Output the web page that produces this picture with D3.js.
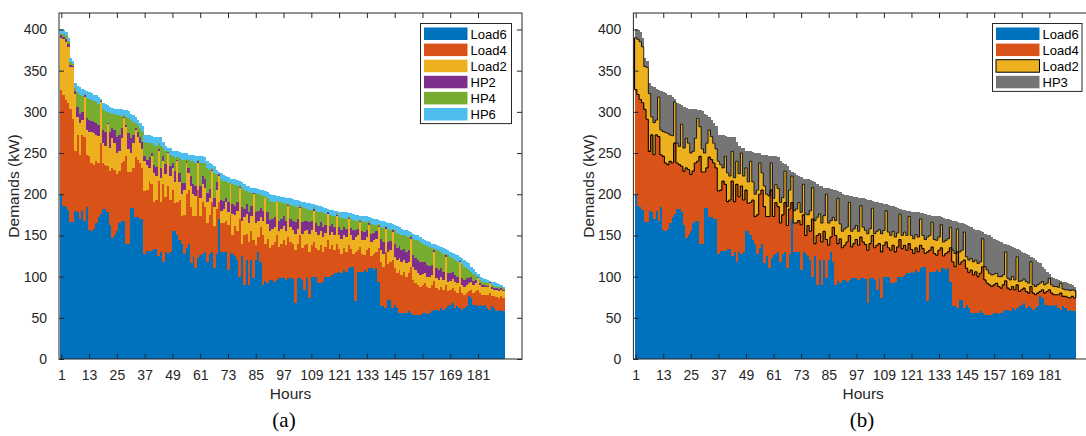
<!DOCTYPE html>
<html><head><meta charset="utf-8">
<script src="https://cdn.jsdelivr.net/npm/d3@7"></script>
<style>body{margin:0;background:#fff}svg{display:block}</style>
</head><body><svg id="c" width="1086" height="436"></svg>
<script>
const load6 = [200,186,185,181,166,166,180,178,170,180,168,184,157,155,158,165,172,176,182,182,178,163,147,150,155,165,168,168,140,140,183,183,172,172,170,170,128,131,131,131,133,133,125,130,118,130,128,130,155,155,150,145,140,127,135,140,117,125,110,122,126,128,130,118,128,130,110,128,170,130,130,130,108,130,128,125,120,100,125,90,120,90,120,98,120,130,118,90,95,92,96,96,94,96,98,98,98,96,98,98,97,68,98,98,96,84,98,74,100,100,100,92,92,94,100,100,100,102,104,104,106,104,108,106,110,112,112,70,106,106,106,108,106,110,110,108,110,94,64,64,62,72,72,62,66,62,56,56,56,56,58,56,53,53,54,53,56,56,55,56,58,60,60,58,62,60,62,64,66,68,62,64,62,60,62,64,76,74,66,66,64,66,64,66,62,60,64,62,58,60,58,58];
const load4 = [127,135,130,130,137,125,72,94,78,92,102,64,89,83,78,75,66,86,56,54,56,65,85,80,69,63,70,72,106,87,44,49,73,70,68,62,76,74,85,81,58,60,91,61,94,67,82,63,50,34,40,48,33,48,65,65,68,48,63,83,47,62,55,47,47,60,52,54,20,35,35,38,55,45,22,37,35,70,15,60,32,52,35,47,18,18,42,60,45,54,39,42,48,54,38,42,47,42,50,44,42,64,42,52,39,54,42,56,38,42,35,40,46,36,36,45,34,36,28,36,27,24,27,24,28,22,16,60,26,30,22,18,26,25,15,20,20,41,54,48,68,43,46,58,44,43,52,46,50,44,46,56,43,39,36,35,34,36,33,30,32,35,26,26,26,24,28,18,18,18,20,16,26,20,16,16,6,10,14,16,20,14,14,12,16,20,12,14,17,14,18,16];
const load2 = [63,67,70,68,52,63,70,22,39,18,48,30,30,37,38,32,33,50,24,22,51,28,36,32,26,24,30,52,36,28,23,30,33,28,24,23,36,31,16,34,35,29,36,29,28,28,40,29,27,26,50,22,27,30,38,21,25,27,25,33,22,22,22,25,21,38,23,23,32,15,17,22,15,37,26,13,25,38,28,22,24,23,19,55,27,20,12,18,55,18,20,20,18,40,19,18,17,17,38,18,17,20,18,33,17,17,17,22,18,38,19,18,17,18,17,31,16,16,18,33,17,18,16,18,32,16,17,18,18,30,17,18,16,28,17,16,16,25,14,16,28,15,14,34,14,15,14,16,14,16,14,34,16,16,14,14,13,12,12,14,12,35,12,12,12,12,34,12,11,11,12,12,30,10,10,10,10,10,10,10,14,10,10,10,9,12,9,8,9,9,8,9];
const hp2 = [3,3,3,3,2,2,3,12,11,10,2,14,14,14,14,14,13,1,16,18,2,20,12,16,20,20,12,2,2,19,18,10,2,6,8,9,6,6,13,4,10,11,3,12,6,12,1,12,6,13,2,11,14,9,2,6,12,13,12,2,15,10,12,12,10,2,11,10,2,13,10,6,12,1,12,11,10,1,16,10,12,13,12,1,13,12,11,12,1,14,14,12,12,1,13,12,11,13,1,10,12,14,12,2,14,12,11,14,11,2,11,12,11,12,10,2,12,10,10,2,10,11,9,10,1,9,11,9,8,2,10,10,9,2,10,9,9,2,14,14,2,12,11,2,16,15,15,14,14,14,14,2,14,14,16,16,15,14,14,13,12,2,12,12,10,10,2,10,9,9,8,8,1,8,8,8,6,6,5,4,1,2,2,2,2,1,2,2,2,2,2,1];
const hp4 = [2,3,4,4,3,2,4,18,23,19,2,25,26,26,25,26,26,1,25,25,13,23,18,19,26,24,15,2,10,19,22,16,7,8,10,12,18,20,17,12,24,25,7,26,10,15,1,14,8,16,3,18,28,28,3,10,18,27,28,2,28,16,19,30,24,2,30,9,1,25,24,20,24,2,24,25,20,2,24,23,16,25,16,1,23,20,16,18,2,18,23,21,19,1,22,20,16,20,2,17,18,20,15,2,18,16,14,15,14,2,15,17,13,18,13,1,13,10,13,2,12,14,11,12,2,11,13,11,10,2,12,12,9,2,12,10,8,2,14,17,1,16,14,2,16,18,15,18,16,19,16,2,20,23,24,24,22,20,23,23,20,3,22,23,20,22,2,22,20,16,18,18,1,17,16,12,10,6,8,5,1,4,4,3,3,1,3,3,2,2,2,2];
const hp6 = [5,5,5,4,5,4,6,7,9,9,5,8,8,8,8,8,8,2,8,8,8,7,7,7,8,7,8,6,8,8,8,8,7,6,6,7,8,10,10,9,10,12,8,11,7,7,4,8,7,8,7,7,8,8,7,6,8,8,9,5,8,8,7,8,8,5,8,5,2,8,7,6,7,4,6,7,7,5,7,7,6,7,6,5,6,6,6,7,6,7,8,8,8,6,8,7,8,8,6,8,8,7,8,5,7,7,7,8,7,4,7,7,7,7,7,3,6,7,7,3,7,8,7,8,4,7,7,7,7,4,7,7,7,5,7,7,7,5,8,8,5,7,8,6,7,8,8,8,7,7,7,4,6,6,6,6,6,6,6,6,6,4,6,6,6,7,6,6,6,7,8,8,4,7,8,8,8,6,6,5,3,4,4,4,4,1,4,4,4,4,2,2];
const hp3 = [10,11,12,11,10,8,13,37,43,38,9,47,48,48,47,48,47,4,49,51,23,50,37,42,54,51,35,10,20,46,48,34,16,20,24,28,32,36,40,25,44,48,18,49,23,34,6,34,21,37,12,36,50,45,12,22,38,48,49,9,51,34,38,50,42,9,49,24,5,46,41,32,43,7,42,43,37,8,47,40,34,45,34,7,42,38,33,37,9,39,45,41,39,8,43,39,35,41,9,35,38,41,35,9,39,35,32,37,32,8,33,36,31,37,30,6,31,27,30,7,29,33,27,30,7,27,31,27,25,8,29,29,25,9,29,26,24,9,36,39,8,35,33,10,39,41,38,40,37,40,37,8,40,43,46,46,43,40,43,42,38,9,40,41,36,39,10,38,35,32,34,34,6,32,32,28,24,18,19,14,5,10,10,9,9,3,9,9,8,8,6,5];
const hours = d3.range(1, 193);
const xTickVals = [1,13,25,37,49,61,73,85,97,109,121,133,145,157,169,181];
const yTickVals = [0,50,100,150,200,250,300,350,400];
const seriesA = ["Load6","Load4","Load2","HP2","HP4","HP6"];
const seriesB = ["Load6","Load4","Load2","HP3"];
const colors = {Load6:"#0072BD",Load4:"#D95319",Load2:"#EDB120",HP2:"#7E2F8E",HP4:"#77AC30",HP6:"#4DBEEE",HP3:"#757575"};
const values = {Load6:load6,Load4:load4,Load2:load2,HP2:hp2,HP4:hp4,HP6:hp6,HP3:hp3};

const svg = d3.select("#c");
const axisColor = "#262626";
const font = "'Liberation Sans', Arial, sans-serif";

function panel(opt) {
  const keys = opt.keys;
  const rows = hours.map((h, i) => { const r = {hour: h}; keys.forEach(k => r[k] = values[k][i]); return r; });
  const stack = d3.stack().keys(keys)(rows);
  const x = d3.scaleLinear().domain([0, 200]).range([opt.left, opt.right]);
  const y = d3.scaleLinear().domain([0, 420]).range([opt.bottom, opt.top]);
  const g = svg.append("g");
  const clipId = "clip" + opt.name;
  svg.append("clipPath").attr("id", clipId).append("rect")
    .attr("x", opt.left).attr("y", opt.top).attr("width", opt.right - opt.left).attr("height", opt.bottom - opt.top);
  const bars = g.append("g").attr("clip-path", `url(#${clipId})`);
  stack.forEach(s => {
    bars.append("g").attr("fill", colors[s.key]).selectAll("rect").data(s).join("rect")
      .attr("x", d => x(d.data.hour - 0.5))
      .attr("width", d => x(d.data.hour + 0.5) - x(d.data.hour - 0.5) + 0.4)
      .attr("y", d => y(d[1]))
      .attr("height", d => Math.max(0, y(d[0]) - y(d[1])))
      .attr("shape-rendering", "crispEdges");
  });
  if (opt.outline) {
    const s = stack.find(t => t.key === opt.outline);
    let pb = "", pt = "";
    s.forEach((d, i) => {
      const x0 = x(d.data.hour - 0.5), x1 = x(d.data.hour + 0.5);
      pb += `M${x0},${y(d[0])}H${x1}`;
      pt += `M${x0},${y(d[1])}H${x1}`;
      if (i === 0) pb += `M${x0},${y(d[0])}V${y(d[1])}`;
      if (i < s.length - 1) {
        const n = s[i + 1];
        pb += `M${x1},${y(d[0])}V${y(n[0])}`;
        pt += `M${x1},${y(d[1])}V${y(n[1])}`;
      } else pb += `M${x1},${y(d[0])}V${y(d[1])}`;
    });
    bars.append("path").attr("d", pt).attr("fill", "none").attr("stroke", "#000").attr("stroke-width", 0.8);
    bars.append("path").attr("d", pb).attr("fill", "none").attr("stroke", "#000").attr("stroke-width", 1.1);
  }
  const ax = g.append("g").attr("font-family", font).attr("font-size", 14).attr("fill", axisColor);
  const tl = 5;
  ax.append("rect").attr("x", opt.left).attr("y", opt.top).attr("width", opt.right - opt.left).attr("height", opt.bottom - opt.top)
    .attr("fill", "none").attr("stroke", axisColor).attr("stroke-width", 1);
  const bottomAxis = d3.axisBottom(x).tickValues(xTickVals).tickSize(-tl).tickPadding(11).tickSizeOuter(0);
  const topAxis = d3.axisTop(x).tickValues(xTickVals).tickSize(-tl).tickFormat("").tickSizeOuter(0);
  const leftAxis = d3.axisLeft(y).tickValues(yTickVals).tickSize(-tl).tickPadding(12).tickSizeOuter(0);
  const rightAxis = d3.axisRight(y).tickValues(yTickVals).tickSize(-tl).tickFormat("").tickSizeOuter(0);
  [[bottomAxis, `translate(0,${opt.bottom})`], [topAxis, `translate(0,${opt.top})`],
   [leftAxis, `translate(${opt.left},0)`], [rightAxis, `translate(${opt.right},0)`]].forEach(([a, t]) => {
    const gg = ax.append("g").attr("transform", t).call(a);
    gg.select(".domain").remove();
    gg.selectAll("line").attr("stroke", axisColor);
    gg.selectAll("text").attr("fill", axisColor).attr("font-family", font).attr("font-size", 14);
  });
  ax.append("text").attr("x", (opt.left + opt.right) / 2).attr("y", 399).attr("text-anchor", "middle")
    .attr("font-size", 15.5).text("Hours");
  ax.append("text").attr("transform", `translate(${opt.ylabelX},${(opt.top + opt.bottom) / 2}) rotate(-90)`)
    .attr("text-anchor", "middle").attr("font-size", 15.5).text("Demands (kW)");
  svg.append("text").attr("x", opt.capX).attr("y", 427).attr("text-anchor", "middle")
    .attr("font-family", "'Liberation Serif','Times New Roman',serif").attr("font-size", 21).attr("fill", "#000").text(opt.caption);
  const lg = svg.append("g").attr("font-family", font).attr("font-size", 13);
  const rowH = 16.1;
  lg.append("rect").attr("x", opt.legX).attr("y", 23.5).attr("width", opt.legW).attr("height", keys.length * rowH + 3.5)
    .attr("fill", "#fff").attr("stroke", axisColor).attr("stroke-width", 1);
  keys.forEach((k, i) => {
    const yy = 27.5 + i * rowH;
    lg.append("rect").attr("x", opt.legX + 3.5).attr("y", yy).attr("width", 43.5).attr("height", 12.5)
      .attr("fill", colors[k]).attr("stroke", k === opt.outline ? "#000" : "none").attr("stroke-width", 1);
    lg.append("text").attr("x", opt.legX + 50).attr("y", yy + 11).attr("fill", "#000").text(k);
  });
}

panel({name: "a", keys: seriesA, left: 59, right: 522, top: 13, bottom: 359, ylabelX: 19, capX: 284, caption: "(a)", legX: 420.5, legW: 91});
panel({name: "b", keys: seriesB, left: 633.4, right: 1093, top: 13, bottom: 359, ylabelX: 594, capX: 862, caption: "(b)", legX: 992.5, legW: 89.5, outline: "Load2"});
</script>
</body></html>
